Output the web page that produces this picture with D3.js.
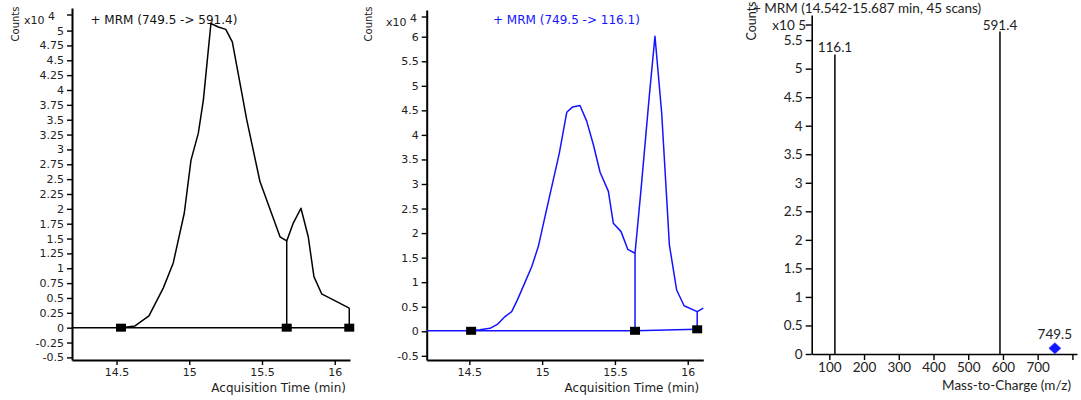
<!DOCTYPE html>
<html><head><meta charset="utf-8">
<script src="https://cdn.jsdelivr.net/npm/d3@7"></script>
<style>body{margin:0;background:#fff}svg{display:block;background:#fff}</style>
</head><body>
<svg id="c" width="1081" height="400"></svg>
<script>
// ---------- DATA ----------
// Panel 1: MRM 749.5 -> 591.4 (x10^4 counts)
const p1Title = "+ MRM (749.5 -> 591.4)";
const p1Time = [14.531,14.627,14.723,14.822,14.890,14.966,15.012,15.062,15.097,15.149,15.200,15.251,15.296,15.349,15.395,15.486,15.624,15.670,15.715,15.768,15.818,15.857,15.910,16.100];
const p1Counts = [0.0,0.03,0.2,0.67,1.09,1.93,2.82,3.27,3.83,5.12,5.06,5.02,4.81,4.11,3.50,2.46,1.53,1.46,1.76,2.01,1.53,0.86,0.57,0.33];
const p1Markers = [[14.531,0],[15.670,0],[16.100,0]];
const p1Drops = [[15.670,1.46],[16.100,0.33]];
const p1YTicks = [-0.5,-0.25,0,0.25,0.5,0.75,1,1.25,1.5,1.75,2,2.25,2.5,2.75,3,3.25,3.5,3.75,4,4.25,4.5,4.75,5];
const p1XTicks = [14.5,15,15.5,16];
const p1Exp = "4";

// Panel 2: MRM 749.5 -> 116.1 (x10^4 counts)
const p2Title = "+ MRM (749.5 -> 116.1)";
const p2Time = [14.512,14.573,14.642,14.692,14.745,14.791,14.830,14.871,14.929,14.974,15.020,15.118,15.169,15.210,15.260,15.306,15.352,15.398,15.455,15.489,15.542,15.588,15.638,15.679,15.736,15.775,15.821,15.856,15.874,15.924,15.975,16.065,16.107];
const p2Counts = [0.02,0.03,0.06,0.14,0.30,0.40,0.64,0.92,1.32,1.73,2.34,3.63,4.46,4.57,4.60,4.28,3.80,3.24,2.85,2.20,2.03,1.67,1.59,2.88,4.79,6.01,4.45,2.68,1.76,0.84,0.52,0.40,0.47];
const p2Markers = [[14.512,0.01],[15.638,0.01],[16.065,0.04]];
const p2Drops = [[15.638,1.59],[16.065,0.40]];
const p2YTicks = [-0.5,0,0.5,1,1.5,2,2.5,3,3.5,4,4.5,5,5.5,6];
const p2XTicks = [14.5,15,15.5,16];
const p2Exp = "4";

// Panel 3: spectrum (x10^5 counts)
const p3Title = "+ MRM (14.542-15.687 min, 45 scans)";
const p3Mz = [116.1, 591.4];
const p3Abund = [5.25, 5.65];
const p3Precursor = [749.5];
const p3PrecursorAbund = [0.1];
const p3YTicks = [0,0.5,1,1.5,2,2.5,3,3.5,4,4.5,5,5.5];
const p3XTicks = [100,200,300,400,500,600,700,800];
const p3XLabels = ["100","200","300","400","500","600","700",""];
const p3Exp = "5";

// ---------- DRAW ----------
const svg = d3.select("#c");
const fmt = d => String(+d.toFixed(2));
const DV = "'DejaVu Sans', Verdana, sans-serif";
const LT = "Lato, 'Open Sans', sans-serif";

function styleAxis(g, font, size, lw) {
  g.attr("font-family", font).attr("font-size", size);
  g.selectAll("text").attr("fill", "#222");
  g.select(".domain").attr("stroke", "#000").attr("stroke-width", lw);
  g.selectAll(".tick line").attr("stroke", "#000").attr("stroke-width", 1.4);
}

function chrom(o) {
  const x = d3.scaleLinear().domain(o.xDom).range([o.left, o.right]);
  const y = d3.scaleLinear().domain(o.yDom).range([o.bottom, o.top]);
  const g = svg.append("g");

  // axes
  const ya = g.append("g").attr("transform", `translate(${o.left},0)`)
    .call(d3.axisLeft(y).tickValues(o.yTicks).tickFormat(fmt).tickSize(5).tickPadding(3).tickSizeOuter(0));
  styleAxis(ya, DV, 11, 2);
  const xa = g.append("g").attr("transform", `translate(0,${o.bottom})`)
    .call(d3.axisBottom(x).tickValues(o.xTicks).tickFormat(fmt).tickSize(5).tickPadding(3).tickSizeOuter(0));
  styleAxis(xa, DV, 11, 2);

  // exponent marker
  g.append("line").attr("x1", o.left - 5).attr("x2", o.left).attr("y1", o.top + 7).attr("y2", o.top + 7)
    .attr("stroke", "#000").attr("stroke-width", 1.4);
  const ex = g.append("text").attr("x", o.expX).attr("y", o.top + 16).attr("text-anchor", "end")
    .attr("font-family", DV).attr("font-size", 11).attr("fill", "#222");
  ex.append("tspan").text("x10 ");
  ex.append("tspan").attr("dy", -4).text(o.exp);

  // counts label
  g.append("text").attr("transform", `translate(${o.cntX},24) rotate(-90)`).attr("text-anchor", "middle")
    .attr("font-family", DV).attr("font-size", 10).attr("fill", "#222").text("Counts");

  // title
  g.append("text").attr("x", o.titleX).attr("y", 24).attr("font-family", DV).attr("font-size", 12)
    .attr("fill", o.color === "#000" ? "#111" : o.color).text(o.title);

  // axis title
  g.append("text").attr("x", o.right - 4).attr("y", 392).attr("text-anchor", "end")
    .attr("font-family", DV).attr("font-size", 12).attr("fill", "#222").text("Acquisition Time (min)");

  // baseline
  g.append("path").attr("d", d3.line().x(d => x(d[0])).y(d => y(d[1]))(o.baseline))
    .attr("fill", "none").attr("stroke", o.color).attr("stroke-width", 1.5);

  // trace
  const pts = o.t.map((t, i) => [t, o.v[i]]);
  g.append("path").attr("d", d3.line().x(d => x(d[0])).y(d => y(d[1]))(pts))
    .attr("fill", "none").attr("stroke", o.color).attr("stroke-width", 1.5).attr("stroke-linejoin", "round");

  // drop lines
  g.selectAll(null).data(o.drops).join("line")
    .attr("x1", d => x(d[0])).attr("x2", d => x(d[0]))
    .attr("y1", d => y(d[1])).attr("y2", d => y(0))
    .attr("stroke", o.color).attr("stroke-width", 1.5);

  // markers
  g.selectAll(null).data(o.markers).join("rect")
    .attr("x", d => x(d[0]) - 5).attr("y", d => y(d[1]) - 4)
    .attr("width", 10).attr("height", 8).attr("fill", "#000");
}

// Panel 1
chrom({
  left: 72, right: 350, top: 8, bottom: 360,
  xDom: [14.194, 16.105], yDom: [-0.544, 5.38],
  yTicks: p1YTicks, xTicks: p1XTicks, exp: p1Exp, expX: 55, cntX: 19,
  title: p1Title, titleX: 90.5, color: "#000",
  t: p1Time, v: p1Counts, drops: p1Drops, markers: p1Markers,
  baseline: [[14.194, 0], [16.105, 0]]
});

// Panel 2
chrom({
  left: 426.7, right: 703.3, top: 10, bottom: 360,
  xDom: [14.207, 16.107], yDom: [-0.585, 6.544],
  yTicks: p2YTicks, xTicks: p2XTicks, exp: p2Exp, expX: 417, cntX: 372,
  title: p2Title, titleX: 493, color: "#1414ff",
  t: p2Time, v: p2Counts, drops: p2Drops, markers: p2Markers,
  baseline: [[14.207, 0.01], [15.638, 0.01], [16.065, 0.04]]
});

// Panel 3 - spectrum
(function () {
  const left = 811.7, right = 1077, top = 15, bottom = 354;
  const x = d3.scaleLinear().domain([49.3, 813.2]).range([left, right]);
  const y = d3.scaleLinear().domain([0, 5.94]).range([bottom, top]);
  const g = svg.append("g");

  const ya = g.append("g").attr("transform", `translate(${left},0)`)
    .call(d3.axisLeft(y).tickValues(p3YTicks).tickFormat(fmt).tickSize(6).tickPadding(3).tickSizeOuter(0));
  styleAxis(ya, LT, 13.5, 1.6);
  const xa = g.append("g").attr("transform", `translate(0,${bottom})`)
    .call(d3.axisBottom(x).tickValues(p3XTicks).tickFormat((d, i) => p3XLabels[i]).tickSize(6).tickPadding(2).tickSizeOuter(0));
  styleAxis(xa, LT, 13.5, 1.6);

  g.append("line").attr("x1", left - 6).attr("x2", left).attr("y1", top + 10).attr("y2", top + 10)
    .attr("stroke", "#000").attr("stroke-width", 1.4);
  g.append("text").attr("x", 806).attr("y", top + 15).attr("text-anchor", "end")
    .attr("font-family", LT).attr("font-size", 13.5).attr("fill", "#222").text("x10 " + p3Exp);

  g.append("text").attr("transform", `translate(756,21) rotate(-90)`).attr("text-anchor", "middle")
    .attr("font-family", LT).attr("font-size", 12.5).attr("fill", "#222").text("Counts");
  g.append("text").attr("x", 753).attr("y", 13).attr("font-family", LT).attr("font-size", 13.5)
    .attr("fill", "#222").text(p3Title);
  g.append("text").attr("x", right - 6).attr("y", 390).attr("text-anchor", "end")
    .attr("font-family", LT).attr("font-size", 13.5).attr("fill", "#222").text("Mass-to-Charge (m/z)");

  const peaks = p3Mz.map((m, i) => [m, p3Abund[i]]);
  g.selectAll(null).data(peaks).join("line")
    .attr("x1", d => x(d[0])).attr("x2", d => x(d[0]))
    .attr("y1", d => y(d[1])).attr("y2", y(0))
    .attr("stroke", "#000").attr("stroke-width", 1.5);
  g.selectAll(null).data(peaks).join("text")
    .attr("x", d => x(d[0])).attr("y", d => y(d[1]) - 2).attr("text-anchor", "middle")
    .attr("font-family", LT).attr("font-size", 13.5).attr("fill", "#222").text(d => d[0].toFixed(1));

  const prec = p3Precursor.map((m, i) => [m, p3PrecursorAbund[i]]);
  g.selectAll(null).data(prec).join("path")
    .attr("transform", d => `translate(${x(d[0])},${y(d[1])})`)
    .attr("d", "M0,-5.5L6,0L0,5.5L-6,0Z").attr("fill", "#1414ff").attr("stroke", "#4040ff").attr("stroke-width", 0.8);
  g.selectAll(null).data(prec).join("text")
    .attr("x", d => x(d[0])).attr("y", d => y(d[1]) - 9).attr("text-anchor", "middle")
    .attr("font-family", LT).attr("font-size", 13.5).attr("fill", "#222").text(d => d[0].toFixed(1));
})();
</script>
</body></html>
